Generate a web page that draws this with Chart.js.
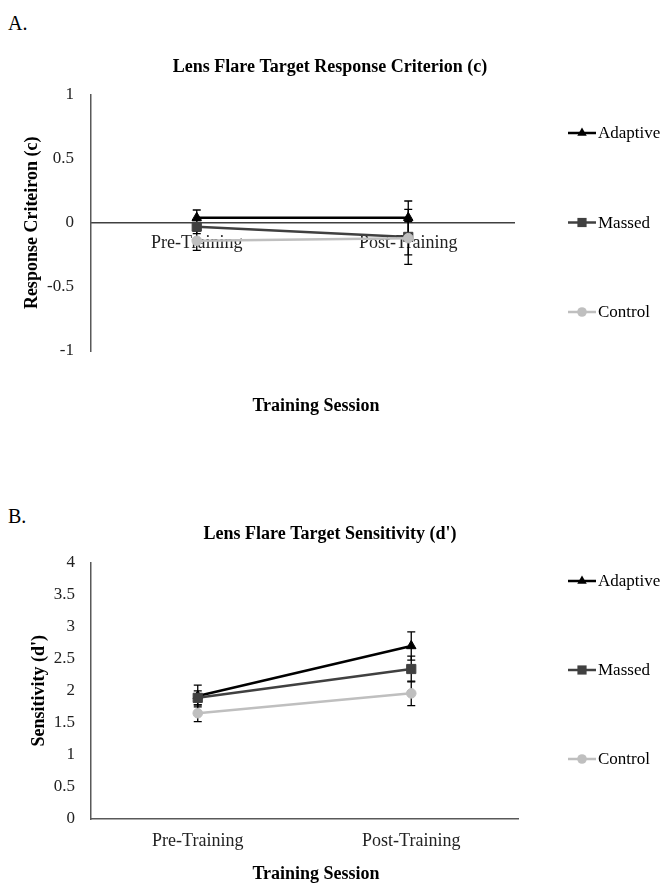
<!DOCTYPE html>
<html>
<head>
<meta charset="utf-8">
<script src="https://cdn.jsdelivr.net/npm/chart.js@4/dist/chart.umd.min.js"></script>
<style>
  body { margin: 0; background: #fff; }
  #wrap { position: relative; width: 660px; height: 883px; font-family: "Liberation Serif", "Times New Roman", serif; }
  .panel { position: absolute; left: 8px; font-size: 20px; color: #000; }
  canvas { position: absolute; left: 0; }
</style>
</head>
<body>
<div id="wrap">
  <div class="panel" style="top:12px">A.</div>
  <canvas id="critChart" width="660" height="440" style="top:0"></canvas>
  <div class="panel" style="top:505px">B.</div>
  <canvas id="sensChart" width="660" height="423" style="top:460px"></canvas>
</div>
<script>
const sessions = ['Pre-Training', 'Post-Training'];
const groups = ['Adaptive', 'Massed', 'Control'];

// response criterion (c), means and error bar half-widths
const critAdaptive = [0.04, 0.04];
const critMassed = [-0.03, -0.11];
const critControl = [-0.14, -0.12];
const critAdaptiveErr = [0.06, 0.13];
const critMassedErr = [0.055, 0.215];
const critControlErr = [0.075, 0.13];

// sensitivity (d')
const sensAdaptive = [1.92, 2.70];
const sensMassed = [1.89, 2.34];
const sensControl = [1.65, 1.96];
const sensAdaptiveErr = [0.17, 0.22];
const sensMassedErr = [0.11, 0.20];
const sensControlErr = [0.13, 0.19];

const critTicks = { min: -1, max: 1, step: 0.5 };
const sensTicks = { min: 0, max: 4, step: 0.5 };

const serif = '"Liberation Serif", "Times New Roman", serif';
const colors = ['#000000', '#404040', '#bfbfbf'];
const markers = ['triangle', 'rect', 'circle'];
const markerSize = [5.5, 6.5, 4.8];

function makeSets(values, errs) {
    return values.map((v, i) => ({
        label: groups[i],
        data: v,
        errors: errs[i],
        borderColor: colors[i],
        backgroundColor: colors[i],
        pointBackgroundColor: colors[i],
        pointBorderColor: colors[i],
        pointStyle: markers[i],
        pointRadius: markerSize[i],
        pointBorderWidth: 1,
        borderWidth: 2.5,
        order: 3 - i
    }));
}

function drawMarker(ctx, style, r, x, y) {
    ctx.beginPath();
    if (style === 'triangle') {
        ctx.moveTo(x, y - r);
        ctx.lineTo(x + r * 0.866, y + r * 0.5);
        ctx.lineTo(x - r * 0.866, y + r * 0.5);
        ctx.closePath();
    } else if (style === 'rect') {
        const s = r * Math.SQRT1_2;
        ctx.rect(x - s, y - s, 2 * s, 2 * s);
    } else {
        ctx.arc(x, y, r, 0, Math.PI * 2);
    }
    ctx.fill();
}

const errorBars = {
    id: 'errorBars',
    beforeDatasetsDraw(chart, args, opts) {
        const ctx = chart.ctx;
        const yScale = chart.scales.y;
        ctx.save();
        ctx.strokeStyle = opts.color;
        ctx.lineWidth = opts.width;
        chart.data.datasets.forEach((ds, i) => {
            chart.getDatasetMeta(i).data.forEach((pt, j) => {
                const top = yScale.getPixelForValue(ds.data[j] + ds.errors[j]);
                const bot = yScale.getPixelForValue(ds.data[j] - ds.errors[j]);
                ctx.beginPath();
                ctx.moveTo(pt.x, top);
                ctx.lineTo(pt.x, bot);
                ctx.moveTo(pt.x - opts.cap, top);
                ctx.lineTo(pt.x + opts.cap, top);
                ctx.moveTo(pt.x - opts.cap, bot);
                ctx.lineTo(pt.x + opts.cap, bot);
                ctx.stroke();
            });
        });
        ctx.restore();
    }
};

// legend on the right side and the x axis caption
const sideLegend = {
    id: 'sideLegend',
    afterDraw(chart, args, opts) {
        const ctx = chart.ctx;
        ctx.save();
        chart.data.datasets.forEach((ds, i) => {
            const y = opts.top + i * opts.gap;
            ctx.strokeStyle = ds.borderColor;
            ctx.lineWidth = 2.5;
            ctx.beginPath();
            ctx.moveTo(opts.x, y);
            ctx.lineTo(opts.x + opts.len, y);
            ctx.stroke();
            ctx.fillStyle = ds.pointBackgroundColor;
            drawMarker(ctx, ds.pointStyle, ds.pointRadius, opts.x + opts.len / 2, y);
            ctx.fillStyle = '#000';
            ctx.font = '17px ' + serif;
            ctx.textAlign = 'left';
            ctx.textBaseline = 'middle';
            ctx.fillText(ds.label, opts.x + opts.len + 2, y + 1);
        });
        ctx.font = 'bold 18px ' + serif;
        ctx.textAlign = 'center';
        ctx.fillStyle = '#000';
        ctx.fillText(opts.caption, opts.captionX, opts.captionY);
        ctx.restore();
    }
};

function yAxis(range, titleText, titleOffset, tickPad) {
    return {
        min: range.min,
        max: range.max,
        afterFit(scale) { scale.width = 91; },
        grid: { display: false, drawTicks: false },
        border: { display: true, color: '#595959', width: 1.5 },
        ticks: {
            stepSize: range.step,
            padding: tickPad,
            color: '#222',
            font: { family: serif, size: 17 },
            callback: (v) => String(Math.round(v * 100) / 100)
        },
        title: {
            display: true,
            text: titleText,
            color: '#000',
            padding: { top: titleOffset, bottom: 0 },
            font: { family: serif, size: 18, weight: 'bold' }
        }
    };
}

function spacer(w) {
    return {
        position: 'right',
        display: true,
        afterFit(scale) { scale.width = w; },
        grid: { display: false },
        border: { display: false },
        ticks: { display: false }
    };
}

function titleOpts(text, top, bottom) {
    return {
        display: true,
        text: text,
        color: '#000',
        padding: { top: top, bottom: bottom },
        font: { family: serif, size: 18, weight: 'bold' }
    };
}

new Chart(document.getElementById('critChart'), {
    type: 'line',
    data: {
        labels: sessions,
        datasets: makeSets([critAdaptive, critMassed, critControl],
                           [critAdaptiveErr, critMassedErr, critControlErr])
    },
    options: {
        responsive: false,
        animation: false,
        layout: { padding: { left: 0, right: 0, top: 0, bottom: 89 } },
        scales: {
            x: {
                position: { y: 0 },
                offset: true,
                grid: { display: false, drawTicks: false },
                border: { display: true, color: '#404040', width: 1.5 },
                ticks: { padding: 10, color: '#222', font: { family: serif, size: 18 } }
            },
            y: yAxis(critTicks, 'Response Criteiron (c)', 22, 17),
            y2: spacer(146)
        },
        plugins: {
            legend: { display: false },
            tooltip: { enabled: false },
            title: titleOpts('Lens Flare Target Response Criterion (c)', 57, 16),
            errorBars: { color: '#000', width: 1.3, cap: 4 },
            sideLegend: { x: 568, len: 28, top: 133, gap: 89.5,
                          caption: 'Training Session', captionX: 316, captionY: 406 }
        }
    },
    plugins: [errorBars, sideLegend]
});

new Chart(document.getElementById('sensChart'), {
    type: 'line',
    data: {
        labels: sessions,
        datasets: makeSets([sensAdaptive, sensMassed, sensControl],
                           [sensAdaptiveErr, sensMassedErr, sensControlErr])
    },
    options: {
        responsive: false,
        animation: false,
        layout: { padding: { left: 0, right: 0, top: 0, bottom: 24 } },
        scales: {
            x: {
                offset: true,
                afterFit(scale) { scale.height = 40; },
                grid: { display: false, drawTicks: false },
                border: { display: true, color: '#595959', width: 1.5 },
                ticks: { padding: 11, color: '#222', font: { family: serif, size: 18 } }
            },
            y: yAxis(sensTicks, "Sensitivity (d')", 29, 16),
            y2: spacer(142)
        },
        plugins: {
            legend: { display: false },
            tooltip: { enabled: false },
            title: titleOpts("Lens Flare Target Sensitivity (d')", 64, 17),
            errorBars: { color: '#000', width: 1.3, cap: 4 },
            sideLegend: { x: 568, len: 28, top: 121, gap: 89,
                          caption: 'Training Session', captionX: 316, captionY: 414 }
        }
    },
    plugins: [errorBars, sideLegend]
});
</script>
</body>
</html>
